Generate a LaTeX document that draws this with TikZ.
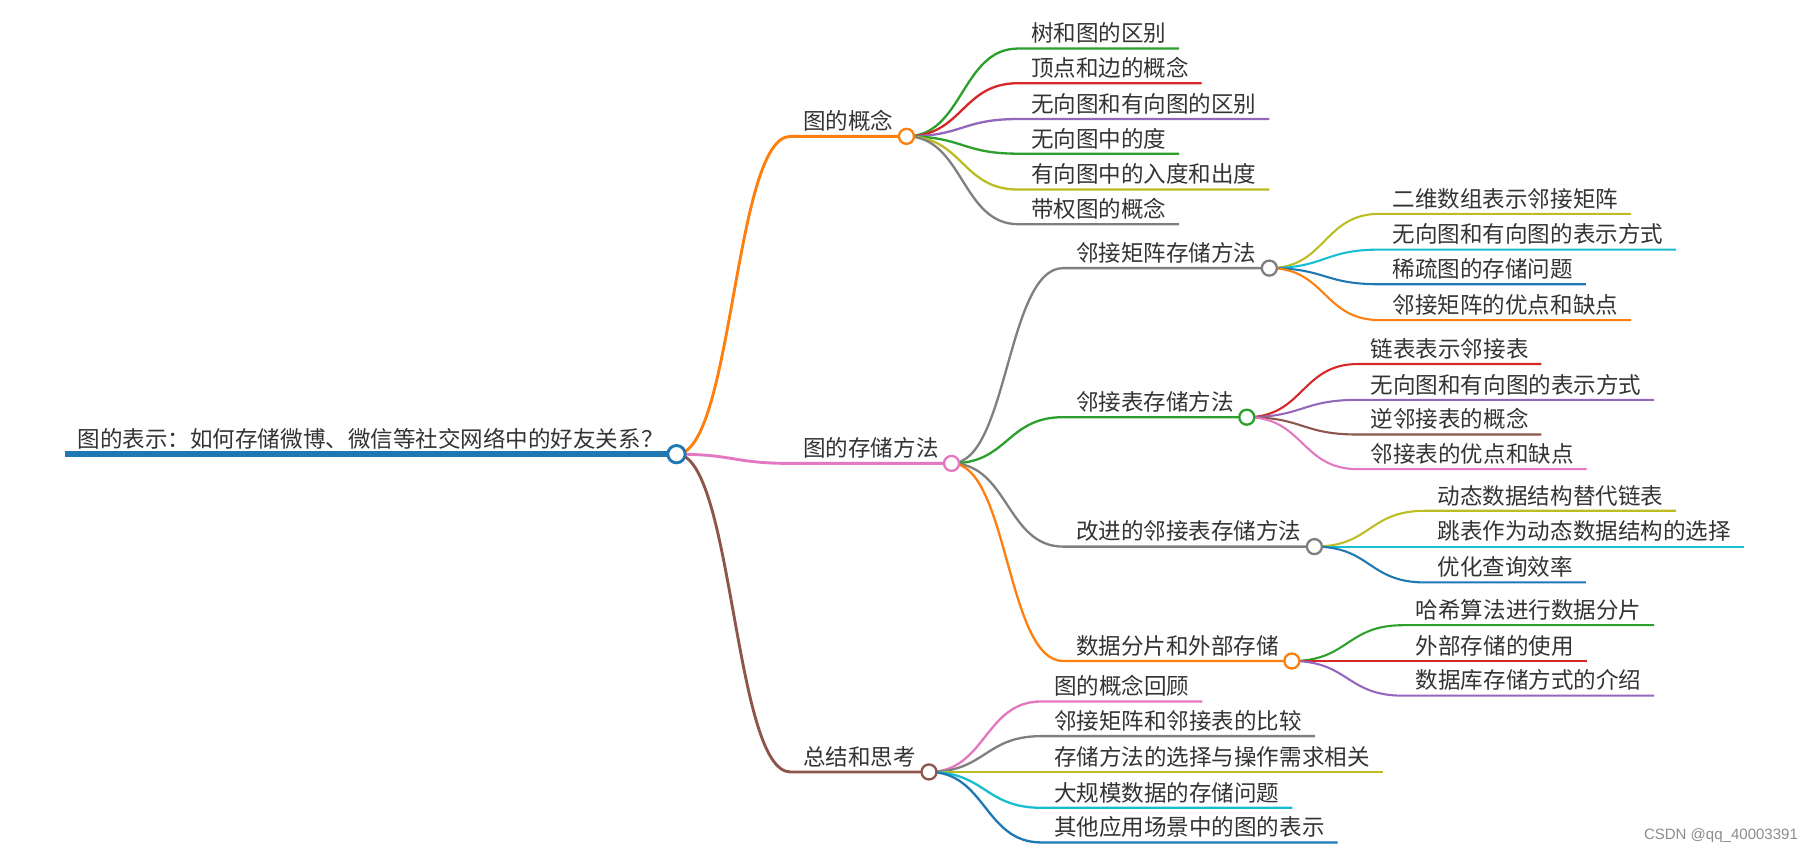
\documentclass[tikz,border=0pt]{standalone}
\usepackage{fontspec}
\usepackage{xcolor}
\newfontfamily\cjk{Noto Sans CJK SC}
\newfontfamily\wmfont{Liberation Sans}
\definecolor{mblue}{HTML}{1F77B4}
\definecolor{morange}{HTML}{FF7F0E}
\definecolor{mgreen}{HTML}{2CA02C}
\definecolor{mred}{HTML}{D62728}
\definecolor{mpurple}{HTML}{9467BD}
\definecolor{mbrown}{HTML}{8C564B}
\definecolor{mpink}{HTML}{E377C2}
\definecolor{mgray}{HTML}{7F7F7F}
\definecolor{molive}{HTML}{BCBD22}
\definecolor{mcyan}{HTML}{17BECF}
\definecolor{txtgray}{HTML}{333333}

\tikzset{
  topic/.style={anchor=south west, inner xsep=11pt, inner ysep=4pt, text=txtgray,
    font=\cjk\fontsize{19.5}{22}\selectfont},
  knot/.style={circle, draw=#1, fill=white, line width=2pt, minimum size=13pt, inner sep=0pt},
}

\begin{document}
\begin{tikzpicture}[x=1pt,y=-1pt]
  \useasboundingbox (0,0) rectangle (1568,739);

  % root and first level
  \node[topic] (root) at (56,393) {图的表示：如何存储微博、微信等社交网络中的好友关系？};
  \node[topic] (concept) at (684,118) {图的概念};
  \node[topic] (storage) at (684,401) {图的存储方法};
  \node[topic] (summary) at (684,668) {总结和思考};

  % concept branch
  \node[topic] (tree)   at (881,42)  {树和图的区别};
  \node[topic] (vertex) at (881,72)  {顶点和边的概念};
  \node[topic] (undir)  at (881,103) {无向图和有向图的区别};
  \node[topic] (degree) at (881,133) {无向图中的度};
  \node[topic] (inout)  at (881,164) {有向图中的入度和出度};
  \node[topic] (weight) at (881,194) {带权图的概念};

  % storage branch
  \node[topic] (matrix)  at (920,232) {邻接矩阵存储方法};
  \node[topic] (list)    at (920,361) {邻接表存储方法};
  \node[topic] (better)  at (920,473) {改进的邻接表存储方法};
  \node[topic] (shard)   at (920,572) {数据分片和外部存储};

  \node[topic] (array)   at (1194,185) {二维数组表示邻接矩阵};
  \node[topic] (mshow)   at (1194,216) {无向图和有向图的表示方式};
  \node[topic] (sparse)  at (1194,246) {稀疏图的存储问题};
  \node[topic] (mpros)   at (1194,277) {邻接矩阵的优点和缺点};

  \node[topic] (linked)  at (1175,315) {链表表示邻接表};
  \node[topic] (lshow)   at (1175,346) {无向图和有向图的表示方式};
  \node[topic] (inverse) at (1175,376) {逆邻接表的概念};
  \node[topic] (lpros)   at (1175,406) {邻接表的优点和缺点};

  \node[topic] (dynamic) at (1233,442) {动态数据结构替代链表};
  \node[topic] (skip)    at (1233,473) {跳表作为动态数据结构的选择};
  \node[topic] (query)   at (1233,504) {优化查询效率};

  \node[topic] (hash)    at (1214,541) {哈希算法进行数据分片};
  \node[topic] (extern)  at (1214,572) {外部存储的使用};
  \node[topic] (dbase)   at (1214,602) {数据库存储方式的介绍};

  % summary branch
  \node[topic] (review)  at (901,607) {图的概念回顾};
  \node[topic] (compare) at (901,637) {邻接矩阵和邻接表的比较};
  \node[topic] (choice)  at (901,668) {存储方法的选择与操作需求相关};
  \node[topic] (large)   at (901,699) {大规模数据的存储问题};
  \node[topic] (other)   at (901,729) {其他应用场景中的图的表示};

  \node[anchor=east, inner sep=0pt, text=black!45, font=\wmfont\fontsize{13}{15}\selectfont]
    (mark) at (1556,723) {CSDN @qq\_40003391};

  % connectors
  \draw[mblue, line width=5pt] (root.south west) -- (root.south east);
  \foreach \p/\c/\col/\w in {
      root/concept/morange/2.5, root/storage/mpink/2.5, root/summary/mbrown/2.5,
      concept/tree/mgreen/2, concept/vertex/mred/2, concept/undir/mpurple/2,
      concept/degree/mgreen/2, concept/inout/molive/2, concept/weight/mgray/2,
      storage/matrix/mgray/2, storage/list/mgreen/2, storage/better/mgray/2, storage/shard/morange/2,
      summary/review/mpink/2, summary/compare/mgray/2, summary/choice/molive/2,
      summary/large/mcyan/2, summary/other/mblue/2,
      matrix/array/molive/1.8, matrix/mshow/mcyan/1.8, matrix/sparse/mblue/1.8, matrix/mpros/morange/1.8,
      list/linked/mred/1.8, list/lshow/mpurple/1.8, list/inverse/mbrown/1.8, list/lpros/mpink/1.8,
      better/dynamic/molive/1.8, better/skip/mcyan/1.8, better/query/mblue/1.8,
      shard/hash/mgreen/1.8, shard/extern/mred/1.8, shard/dbase/mpurple/1.8}
    \draw[\col, line width=\w pt] (\p.south east) .. controls +(49,0) and +(-49,0) .. (\c.south west)
      -- (\c.south east);

  % knots on the branching topics
  \foreach \n/\col in {concept/morange, storage/mpink, summary/mbrown,
      matrix/mgray, list/mgreen, better/mgray, shard/morange}
    \node[knot=\col] at (\n.south east) {};
  \node[knot=mblue, line width=2.5pt, minimum size=15pt] at (root.south east) {};
\end{tikzpicture}
\end{document}
